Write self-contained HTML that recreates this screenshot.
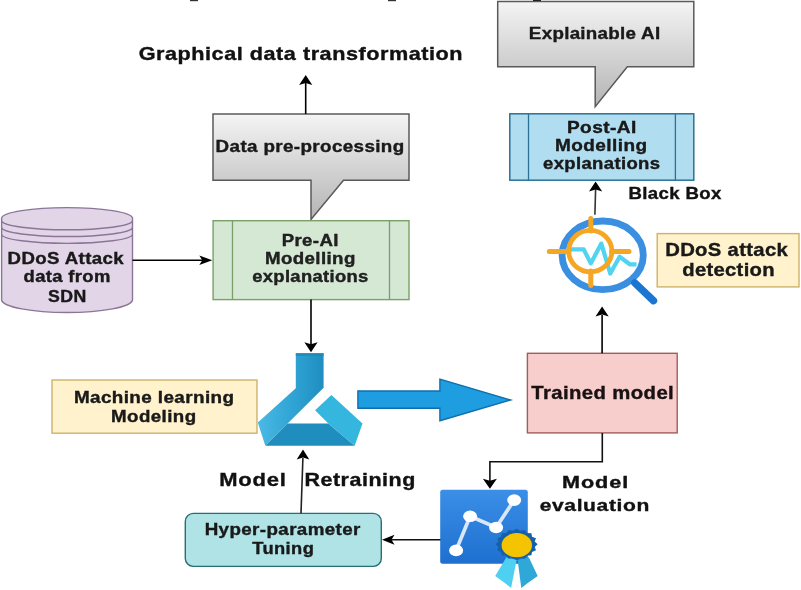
<!DOCTYPE html>
<html><head><meta charset="utf-8"><style>
html,body{margin:0;padding:0;background:#fff;}
svg{display:block;filter:blur(0.4px);}
text{font-family:"Liberation Sans",sans-serif;font-weight:bold;stroke:#111;stroke-width:0.35px;}
</style></head><body>
<svg width="801" height="590" viewBox="0 0 801 590">
<rect width="801" height="590" fill="#fff"/>

<defs>
 <linearGradient id="callg" x1="0" y1="0" x2="0" y2="1">
  <stop offset="0" stop-color="#f4f4f4"/><stop offset="1" stop-color="#b4b4b4"/>
 </linearGradient>
 <linearGradient id="neck" x1="0" y1="0" x2="1" y2="0">
  <stop offset="0" stop-color="#2aa3d6"/><stop offset="1" stop-color="#1c8cc0"/>
 </linearGradient>
 <linearGradient id="larm" x1="1" y1="0" x2="0" y2="1">
  <stop offset="0" stop-color="#1f92c6"/><stop offset="1" stop-color="#48b8e4"/>
 </linearGradient>
 <linearGradient id="armg" gradientUnits="userSpaceOnUse" x1="258" y1="0" x2="324" y2="0">
  <stop offset="0" stop-color="#4ab9e4"/><stop offset="0.55" stop-color="#2ea3d4"/><stop offset="1" stop-color="#1f8dbf"/>
 </linearGradient>
 <linearGradient id="evalg" x1="0" y1="0" x2="0" y2="1">
  <stop offset="0" stop-color="#3b8fe6"/><stop offset="1" stop-color="#1e6fd0"/>
 </linearGradient>
</defs>
<!-- top marks -->
<rect x="190" y="0" width="8" height="1.2" fill="#333"/>
<rect x="388" y="0" width="8" height="1.2" fill="#333"/>
<rect x="533" y="0" width="8" height="1.6" fill="#111"/>

<!-- callout data pre-processing -->
<path d="M213,114 H409 V180.2 H343.5 L311,219.5 V180.2 H213 Z" fill="url(#callg)" stroke="#595959" stroke-width="1.5"/>
<line x1="305.7" y1="114" x2="305.7" y2="83" stroke="#000" stroke-width="1.6"/>
<path d="M305.7,75.1 L312.3,85.1 L305.7,83.1 L299.09999999999997,85.1 Z" fill="#000"/>

<!-- callout explainable AI -->
<path d="M497.7,1.4 H693.8 V66.8 H627.3 L595.2,106.7 V66.8 H497.7 Z" fill="url(#callg)" stroke="#595959" stroke-width="1.5"/>

<!-- post-AI box -->
<rect x="509.8" y="113.8" width="184" height="66.4" fill="#b1ddf0" stroke="#2a7295" stroke-width="1.5"/>
<line x1="528.5" y1="113.8" x2="528.5" y2="180.2" stroke="#2a7295" stroke-width="1.3"/>
<line x1="675.4" y1="113.8" x2="675.4" y2="180.2" stroke="#2a7295" stroke-width="1.3"/>
<line x1="594.9" y1="214.7" x2="595.6" y2="189" stroke="#333" stroke-width="1.6"/>
<path d="M595.6,181.5 L602.2,191.5 L595.6,189.5 L589.0,191.5 Z" fill="#000"/>

<!-- cylinder -->
<path d="M1.6,218 A65.5,10.8 0 0 1 132.5,218 V300 A65.5,13 0 0 1 1.6,300 Z" fill="#e1d5e7" stroke="#8b7598" stroke-width="1.4"/>
<path d="M1.6,221 A65.5,9.1 0 0 0 132.5,221" fill="none" stroke="#8b7598" stroke-width="1.4"/>
<path d="M1.6,227.8 A65.5,9.1 0 0 0 132.5,227.8" fill="none" stroke="#8b7598" stroke-width="1.4"/>
<path d="M1.6,234.6 A65.5,9.1 0 0 0 132.5,234.6" fill="none" stroke="#8b7598" stroke-width="1.4"/>
<line x1="132.5" y1="260.2" x2="203" y2="260.2" stroke="#000" stroke-width="1.6"/>
<path d="M212.3,260.2 L199.3,255.39999999999998 L202.3,260.2 L199.3,265.0 Z" fill="#000"/>

<!-- green box -->
<rect x="213.1" y="220.7" width="195.9" height="78.9" fill="#d5e8d4" stroke="#7a9f69" stroke-width="1.4"/>
<line x1="232.5" y1="220.7" x2="232.5" y2="299.6" stroke="#7a9f69" stroke-width="1.3"/>
<line x1="389.5" y1="220.7" x2="389.5" y2="299.6" stroke="#7a9f69" stroke-width="1.3"/>
<line x1="311" y1="299.6" x2="311" y2="346" stroke="#000" stroke-width="1.6"/>
<path d="M311,352.2 L317.6,342.2 L311,344.2 L304.4,342.2 Z" fill="#000"/>

<!-- yellow ML box -->
<rect x="52" y="380" width="205" height="53.2" fill="#fff2cc" stroke="#cdb36a" stroke-width="1.4"/>

<!-- ML icon -->
<polygon points="295.8,353.2 323.6,353.2 323.6,387.8 287.6,423.4 265.3,445.8 257.8,422.4 295.8,388.3" fill="url(#armg)"/>
<rect x="295.8" y="353.2" width="27.8" height="2.6" fill="#1f86b6" opacity="0.8"/>
<polygon points="287.6,423.4 328.3,423.4 354.7,445.8 265.3,445.8" fill="#1f8dbd"/>
<polygon points="331.4,394.9 362.5,423.4 354.7,445.8 328.3,423.4 315.1,410.2" fill="#35b6de"/>

<!-- big arrow -->
<path d="M357.9,391 H439.9 V379.1 L510.7,400 L439.9,420.7 V408.3 H357.9 Z" fill="#1e9de0" stroke="#0f6fae" stroke-width="1.4"/>

<!-- trained model -->
<rect x="527.4" y="353.3" width="149.8" height="79.6" fill="#f8cecc" stroke="#a25c5c" stroke-width="1.4"/>
<line x1="602.1" y1="353.3" x2="602.1" y2="315" stroke="#000" stroke-width="1.6"/>
<path d="M602.1,306.6 L608.7,316.6 L602.1,314.6 L595.5,316.6 Z" fill="#000"/>

<!-- detection icon -->
<ellipse cx="602.7" cy="255.3" rx="40.6" ry="34.3" fill="none" stroke="#3a8fe0" stroke-width="6.8"/>
<line x1="634.8" y1="282.9" x2="653.5" y2="300.7" stroke="#1b76d2" stroke-width="7.4" stroke-linecap="round"/>
<polyline points="570.5,249.4 583.7,249.4 590.8,263.4 601.3,243.6 610.3,273.6 619.6,256.7 629.8,264.3 636.5,264.3" fill="none" stroke="#50d4f0" stroke-width="4.2" stroke-linejoin="round"/>
<ellipse cx="590.3" cy="251.1" rx="21.6" ry="20.7" fill="none" stroke="#f5a623" stroke-width="4.8"/>
<path d="M549.3,251.6 H569 M611.5,251.6 H629 M590.8,218.5 V231 M590.8,271 V285.5" stroke="#f5a623" stroke-width="5" stroke-linecap="round" fill="none"/>

<!-- yellow detection box -->
<rect x="657.2" y="233.6" width="141.8" height="53.3" fill="#fff2cc" stroke="#cdb36a" stroke-width="1.4"/>

<!-- elbow connector -->
<polyline points="602.3,432.9 602.3,461.7 489.9,461.7 489.9,481" fill="none" stroke="#111" stroke-width="1.6"/>
<path d="M489.9,488.8 L496.9,478.8 L489.9,480.8 L482.9,478.8 Z" fill="#000"/>

<!-- eval icon -->
<rect x="440.2" y="489.7" width="87.6" height="74.1" rx="2.5" fill="url(#evalg)"/>
<polyline points="456.1,550.4 470.1,516.3 496.1,527.5 514.2,500.1" fill="none" stroke="#d8e8fa" stroke-width="3.7"/>
<ellipse cx="456.1" cy="550.4" rx="7" ry="5.8" fill="#fff"/>
<ellipse cx="470.1" cy="516.3" rx="7" ry="5.8" fill="#fff"/>
<ellipse cx="496.1" cy="527.5" rx="7" ry="5.8" fill="#fff"/>
<ellipse cx="514.2" cy="500.1" rx="7" ry="5.8" fill="#fff"/>
<polygon points="506.4,557.3 516.6,560.1 511.1,588.1 505.5,583.4 495.2,576" fill="#50d0f0"/>
<polygon points="517.6,560.1 528.8,557.3 537.7,576 527.8,583 521.3,588.1" fill="#2fa8d8"/>
<polygon points="537.6,544.3 534.7,547.0 536.0,550.3 532.0,551.9 531.4,555.3 526.9,555.7 524.6,558.7 520.2,557.8 516.6,559.9 513.0,557.8 508.6,558.7 506.3,555.7 501.8,555.3 501.2,551.9 497.2,550.3 498.5,547.0 495.6,544.3 498.5,541.6 497.2,538.3 501.2,536.7 501.8,533.3 506.3,532.9 508.6,529.9 513.0,530.8 516.6,528.7 520.2,530.8 524.6,529.9 526.9,532.9 531.4,533.3 532.0,536.7 536.0,538.3 534.7,541.6" fill="#1560a8"/>
<ellipse cx="516.8" cy="545.2" rx="15.2" ry="12.1" fill="#f5c400"/>
<line x1="440.5" y1="539.8" x2="391" y2="539.8" stroke="#111" stroke-width="1.6"/>
<path d="M382,539.8 L394.5,534.8 L391.5,539.8 L394.5,544.8 Z" fill="#000"/>

<!-- hyper-parameter box -->
<rect x="185.3" y="513.4" width="196" height="53" rx="8" fill="#b0e3e6" stroke="#276f74" stroke-width="1.4"/>
<line x1="301" y1="513.4" x2="302.9" y2="458" stroke="#222" stroke-width="1.6"/>
<path d="M303,449.5 L309.3,459.5 L303,457.5 L296.7,459.5 Z" fill="#000"/>

<text transform="translate(138.70,59.5) scale(1.2371,1)" font-size="17.5" letter-spacing="0.427" fill="#111">Graphical data transformation</text>
<text transform="translate(528.86,38.7) scale(1.1374,1)" font-size="16.5" letter-spacing="0.258" fill="#1a1a1a">Explainable AI</text>
<text transform="translate(215.62,151.5) scale(1.1761,1)" font-size="16" letter-spacing="0.318" fill="#1a1a1a">Data pre-processing</text>
<text transform="translate(7.54,263.6) scale(1.1649,1)" font-size="16" letter-spacing="0.340" fill="#1a1a1a">DDoS Attack</text>
<text transform="translate(23.60,282) scale(1.1522,1)" font-size="16" letter-spacing="0.300" fill="#1a1a1a">data from</text>
<text transform="translate(48.00,302) scale(1.1077,1)" font-size="16" letter-spacing="0.404" fill="#1a1a1a">SDN</text>
<text transform="translate(281.64,246) scale(1.1650,1)" font-size="16" letter-spacing="0.323" fill="#222">Pre-AI</text>
<text transform="translate(265.03,264.3) scale(1.1692,1)" font-size="16" letter-spacing="0.330" fill="#222">Modelling</text>
<text transform="translate(252.20,281.8) scale(1.1503,1)" font-size="16" letter-spacing="0.291" fill="#222">explanations</text>
<text transform="translate(566.91,133.1) scale(1.1928,1)" font-size="16" letter-spacing="0.367" fill="#1a1a1a">Post-AI</text>
<text transform="translate(555.01,151.1) scale(1.1890,1)" font-size="16" letter-spacing="0.362" fill="#1a1a1a">Modelling</text>
<text transform="translate(543.10,168.6) scale(1.1568,1)" font-size="16" letter-spacing="0.302" fill="#1a1a1a">explanations</text>
<text transform="translate(628.44,199.2) scale(1.1625,1)" font-size="16" letter-spacing="0.334" fill="#111">Black Box</text>
<text transform="translate(665.17,255.5) scale(1.1259,1)" font-size="18" letter-spacing="0.296" fill="#1a1a1a">DDoS attack</text>
<text transform="translate(682.30,276.3) scale(1.1234,1)" font-size="18" letter-spacing="0.271" fill="#1a1a1a">detection</text>
<text transform="translate(73.92,402.5) scale(1.1804,1)" font-size="16" letter-spacing="0.328" fill="#1a1a1a">Machine learning</text>
<text transform="translate(111.03,421.6) scale(1.1714,1)" font-size="16" letter-spacing="0.358" fill="#1a1a1a">Modeling</text>
<text transform="translate(531.30,399.3) scale(1.1611,1)" font-size="17.5" letter-spacing="0.341" fill="#1a1212">Trained model</text>
<text transform="translate(219.25,486.2) scale(1.2548,1)" font-size="17.5" letter-spacing="0.618" fill="#111">Model</text>
<text transform="translate(304.47,486.2) scale(1.2259,1)" font-size="17.5" letter-spacing="0.434" fill="#111">Retraining</text>
<text transform="translate(561.99,488.2) scale(1.3129,1)" font-size="16.5" letter-spacing="0.686" fill="#111">Model</text>
<text transform="translate(539.70,510.5) scale(1.2755,1)" font-size="16.5" letter-spacing="0.489" fill="#111">evaluation</text>
<text transform="translate(204.63,535.4) scale(1.1739,1)" font-size="16" letter-spacing="0.336" fill="#1a1a1a">Hyper-parameter</text>
<text transform="translate(252.30,553.8) scale(1.1456,1)" font-size="16" letter-spacing="0.326" fill="#1a1a1a">Tuning</text>
</svg>
</body></html>
